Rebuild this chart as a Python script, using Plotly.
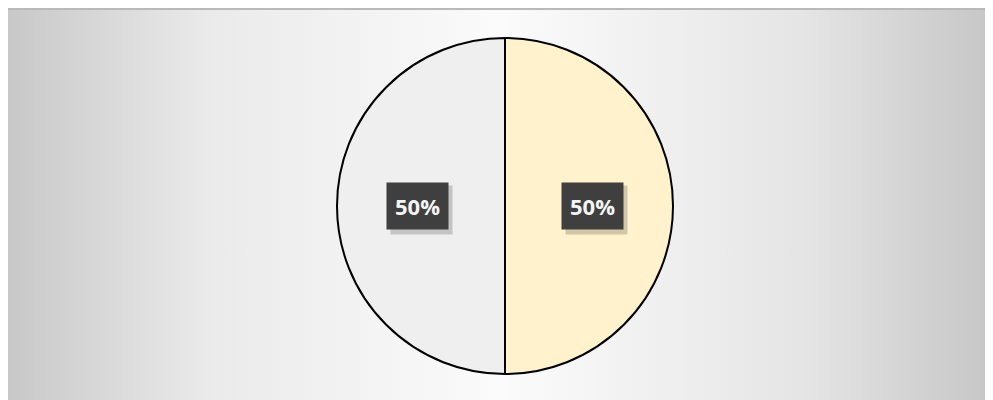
import base64, math
import plotly.graph_objects as go

# ---- data ----
labels = ["Part A", "Part B"]
values = [50, 50]
slice_colors = ["#FFF2CC", "#EFEFEF"]

W, H = 993, 400

# background panel: soft grey gradient, lightest in the middle
svg = (
    '<svg xmlns="http://www.w3.org/2000/svg" width="993" height="400" viewBox="0 0 993 400" preserveAspectRatio="none">'
    '<defs><linearGradient id="g" x1="0" y1="0" x2="1" y2="0">'
    '<stop offset="0" stop-color="#c8c8c8"/>'
    '<stop offset="0.2" stop-color="#eaeaea"/>'
    '<stop offset="0.5" stop-color="#fbfbfb"/>'
    '<stop offset="0.8" stop-color="#e5e5e5"/>'
    '<stop offset="1" stop-color="#c5c5c5"/>'
    '</linearGradient></defs>'
    '<rect x="0" y="0" width="993" height="400" fill="url(#g)"/>'
    '<rect x="0" y="0" width="993" height="2" fill="#b9b9b9"/>'
    '</svg>'
)
src = "data:image/svg+xml;base64," + base64.b64encode(svg.encode()).decode()

dom_x = [329 / W, 665 / W]
dom_y = [34 / H, 370 / H]
radius_px = 168

fig = go.Figure()
fig.add_trace(go.Pie(
    labels=labels, values=values, sort=False, direction="clockwise", rotation=0,
    marker=dict(colors=slice_colors, line=dict(color="#000000", width=2)),
    textinfo="none", hoverinfo="label+percent", showlegend=False,
    domain=dict(x=dom_x, y=dom_y),
))

# data labels with dark boxes, positioned at slice mid-angles
total = sum(values)
cx = sum(dom_x) / 2
cy = sum(dom_y) / 2
cum = 0
annotations = []
for v in values:
    mid = (cum + v / 2) / total
    cum += v
    theta = math.radians(90 - 360 * mid)
    dx = radius_px * 0.52 * math.cos(theta)
    dy = radius_px * 0.52 * math.sin(theta)
    txt = f"{round(v / total * 100)}%"
    # soft shadow
    annotations.append(dict(
        x=cx, y=cy, xref="paper", yref="paper", xshift=dx + 4, yshift=dy - 4,
        text=txt, showarrow=False, bgcolor="rgba(0,0,0,0.18)", borderpad=9,
        font=dict(family="Open Sans", size=22, color="rgba(0,0,0,0)"),
    ))
    annotations.append(dict(
        x=cx, y=cy, xref="paper", yref="paper", xshift=dx, yshift=dy,
        text=f"<b>{txt}</b>", showarrow=False, bgcolor="#3f3f3f", borderpad=8,
        font=dict(family="Open Sans", size=22, color="#f4f4f4"),
    ))

fig.update_layout(
    width=W, height=H,
    margin=dict(l=0, r=0, t=0, b=0),
    paper_bgcolor="#ffffff", plot_bgcolor="rgba(0,0,0,0)",
    images=[dict(source=src, xref="paper", yref="paper", x=0, y=1,
                 sizex=1, sizey=1, sizing="stretch",
                 xanchor="left", yanchor="top", layer="below")],
    annotations=annotations,
)

fig.write_html("out.html")
